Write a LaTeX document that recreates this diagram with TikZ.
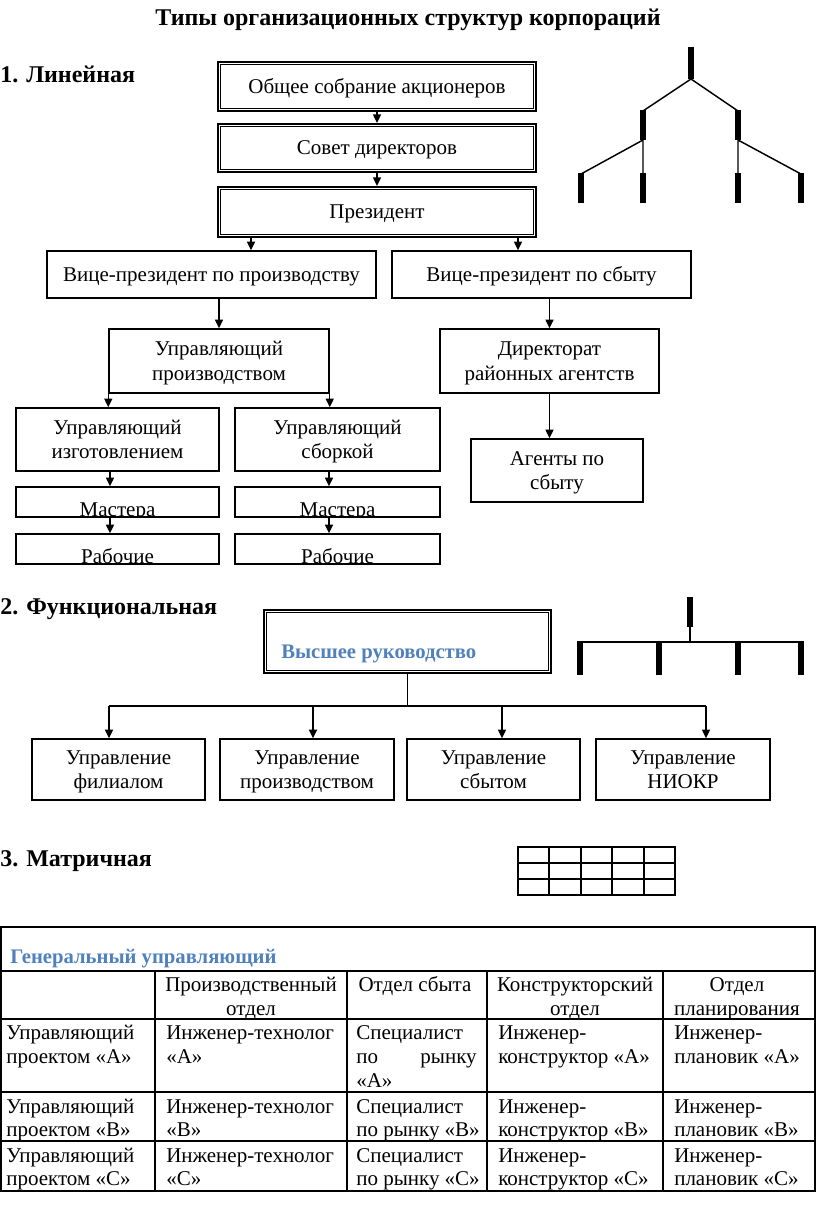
\documentclass[tikz,border=0pt]{standalone}
\usepackage{fontspec}
\setmainfont{Liberation Serif}
\usetikzlibrary{arrows.meta}
\definecolor{hblue}{HTML}{4F81BD}
\newcommand\innerbox[1]{\draw[line width=0.9pt] ([shift={(3.5,3.5)}]#1.north west) rectangle ([shift={(-3.5,-3.5)}]#1.south east);}
\newcommand\topstrut{\rule{0pt}{15.5pt}}
\newcommand\botstrut{\rule[-5.6pt]{0pt}{0pt}}
\begin{document}
\begin{tikzpicture}[x=0.75pt,y=-0.75pt,
  txt/.style={font=\fontsize{15.75}{18.75}\selectfont, inner sep=0pt},
  box/.style={draw, line width=1.1pt, inner sep=0pt, align=center, txt,
    execute at begin node=\topstrut, execute at end node=\botstrut},
  dbox/.style={draw, line width=1.5pt, inner sep=0pt, align=center, txt,
    execute at begin node=\topstrut, execute at end node=\botstrut},
  arr/.style={line width=1pt, -{Triangle[length=6.5pt,width=6pt]}},
  conn/.style={line width=1pt},
  head/.style={font=\fontsize{18}{21}\selectfont\bfseries, inner sep=0pt},
  bluet/.style={font=\fontsize{15.5}{18}\selectfont\bfseries, text=hblue, inner sep=0pt},
  thickbar/.style={line width=3.8pt},
  thinline/.style={line width=1.1pt},
  grid/.style={line width=1.1pt},
  tline/.style={line width=0.8pt},
  cl/.style={txt, anchor=base west},
  cc/.style={txt, anchor=base},
  ce/.style={txt, anchor=base east},
  lineone/.style={cc, yshift=4.1pt},
  linetwo/.style={cc, yshift=-14.6pt}]
\path[use as bounding box, fill=white] (0,0) rectangle (816,1218);

% ---------- title and headings ----------
\node[head, anchor=base] (title) at (408,25) {Типы организационных структур корпораций};
\node[head, anchor=base west] (h1) at (0,82) {1. Линейная};
\node[head, anchor=base west] (h2) at (0,614) {2. Функциональная};
\node[head, anchor=base west] (h3) at (0,866) {3. Матричная};

% ---------- 1. linear ----------
\node[dbox, minimum width=238.5pt, minimum height=36.75pt] (B1) at (377,86.5) {Общее собрание акционеров};
\innerbox{B1}
\node[dbox, minimum width=238.5pt, minimum height=36pt] (B2) at (377,148) {Совет директоров};
\innerbox{B2}
\node[dbox, minimum width=238.5pt, minimum height=37.5pt] (B3) at (377,212) {Президент};
\innerbox{B3}
\draw[arr] (B1.south) -- (B2.north);
\draw[arr] (B2.south) -- (B3.north);

\node[box, minimum width=246.75pt, minimum height=35.25pt] (VP1) at (211.5,274.5) {Вице-президент по производству};
\node[box, minimum width=224.25pt, minimum height=35.25pt] (VP2) at (541.5,274.5) {Вице-президент по сбыту};
\coordinate (pa1) at (251,0);
\coordinate (pa2) at (518,0);
\draw[arr] (pa1 |- B3.south) -- (pa1 |- VP1.north);
\draw[arr] (pa2 |- B3.south) -- (pa2 |- VP2.north);

\node[box, minimum width=165pt, minimum height=48pt] (UP) at (219,361) {};
\node[lineone] (UPa) at (UP) {Управляющий};
\node[linetwo] (UPb) at (UP) {производством};
\node[box, minimum width=164.25pt, minimum height=48pt] (DA) at (549.5,361) {};
\node[lineone] (DAa) at (DA) {Директорат};
\node[linetwo] (DAb) at (DA) {районных агентств};
\draw[arr] (VP1.south -| UP.north) -- (UP.north);
\draw[arr] (VP2.south -| DA.north) -- (DA.north);

\node[box, minimum width=152.25pt, minimum height=47.25pt] (UI) at (117.5,439.5) {};
\node[lineone] (UIa) at (UI) {Управляющий};
\node[linetwo] (UIb) at (UI) {изготовлением};
\node[box, minimum width=153.75pt, minimum height=47.25pt] (US) at (337.5,439.5) {};
\node[lineone] (USa) at (US) {Управляющий};
\node[linetwo] (USb) at (US) {сборкой};
\draw[arr] (UP.south west) -- (UP.south west |- UI.north);
\draw[arr] (UP.south east) -- (UP.south east |- US.north);

\node[box, minimum width=152.25pt, minimum height=22.5pt] (M1) at (117.5,502) {};
\node[box, minimum width=153.75pt, minimum height=22.5pt] (M2) at (337.5,502) {};
\node[box, minimum width=152.25pt, minimum height=22.5pt] (R1) at (117.5,549) {};
\node[box, minimum width=153.75pt, minimum height=22.5pt] (R2) at (337.5,549) {};
\begin{scope}
\clip (M1.north west) rectangle (M1.south east);
\node[cc] (M1t) at (117.5,516) {Мастера};
\end{scope}
\begin{scope}
\clip (M2.north west) rectangle (M2.south east);
\node[cc] (M2t) at (337.5,516) {Мастера};
\end{scope}
\begin{scope}
\clip (R1.north west) rectangle (R1.south east);
\node[cc] (R1t) at (117.5,563) {Рабочие};
\end{scope}
\begin{scope}
\clip (R2.north west) rectangle (R2.south east);
\node[cc] (R2t) at (337.5,563) {Рабочие};
\end{scope}
\coordinate (ma1) at (110,0);
\coordinate (ma2) at (329,0);
\draw[arr] (ma1 |- UI.south) -- (ma1 |- M1.north);
\draw[arr] (ma2 |- US.south) -- (ma2 |- M2.north);
\draw[arr] (ma1 |- M1.south) -- (ma1 |- R1.north);
\draw[arr] (ma2 |- M2.south) -- (ma2 |- R2.north);

\node[box, minimum width=129pt, minimum height=47.25pt] (AG) at (557,470.5) {};
\node[lineone] (AGa) at (AG) {Агенты по};
\node[linetwo] (AGb) at (AG) {сбыту};
\draw[arr] (DA.south) -- (DA.south |- AG.north);

% tree icon
\draw[thickbar] (691,47) -- (691,79);
\draw[thinline] (643,111) -- (691,79) -- (738,111);
\draw[thickbar] (643,110) -- (643,140);
\draw[thickbar] (738,110) -- (738,140);
\draw[thinline] (581,174) -- (643,140) -- (643,174);
\draw[thinline] (738,174) -- (738,140) -- (801,174);
\draw[thickbar] (581,173) -- (581,203);
\draw[thickbar] (643,173) -- (643,203);
\draw[thickbar] (738,173) -- (738,203);
\draw[thickbar] (801,173) -- (801,203);

% ---------- 2. functional ----------
\node[dbox, minimum width=215.25pt, minimum height=47.25pt] (FB) at (407.5,641.5) {};
\innerbox{FB}
\node[bluet, anchor=base west] (FBt) at (281,658) {Высшее руководство};
\coordinate (fj) at (407.5,706);
\coordinate (fa1) at (109,706);
\coordinate (fa2) at (313,706);
\coordinate (fa3) at (502,706);
\coordinate (fa4) at (706,706);
\node[box, minimum width=129.75pt, minimum height=45.75pt] (F1) at (118.5,769.5) {};
\node[lineone] (F1a) at (F1) {Управление};
\node[linetwo] (F1b) at (F1) {филиалом};
\node[box, minimum width=130.5pt, minimum height=45.75pt] (F2) at (307,769.5) {};
\node[lineone] (F2a) at (F2) {Управление};
\node[linetwo] (F2b) at (F2) {производством};
\node[box, minimum width=129.75pt, minimum height=45.75pt] (F3) at (493.5,769.5) {};
\node[lineone] (F3a) at (F3) {Управление};
\node[linetwo] (F3b) at (F3) {сбытом};
\node[box, minimum width=130.5pt, minimum height=45.75pt] (F4) at (683,769.5) {};
\node[lineone] (F4a) at (F4) {Управление};
\node[linetwo] (F4b) at (F4) {НИОКР};
\draw[conn] (FB.south) -- (fj);
\draw[conn] (fa1) -- (fa4);
\draw[arr] (fa1) -- (fa1 |- F1.north);
\draw[arr] (fa2) -- (fa2 |- F2.north);
\draw[arr] (fa3) -- (fa3 |- F3.north);
\draw[arr] (fa4) -- (fa4 |- F4.north);

% functional icon
\draw[thickbar] (690,597) -- (690,627);
\draw[thinline] (690,627) -- (690,642);
\draw[thinline] (580,642) -- (801,642);
\draw[thickbar] (580,641) -- (580,675);
\draw[thickbar] (659,641) -- (659,675);
\draw[thickbar] (738,641) -- (738,675);
\draw[thickbar] (801,641) -- (801,675);

% ---------- 3. matrix ----------
\draw[grid] (518,847) rectangle (675,895);
\foreach \gx in {549,581,612,644} \draw[grid] (\gx,847) -- (\gx,895);
\foreach \gy in {863,879} \draw[grid] (518,\gy) -- (675,\gy);

% table
\draw[tline] (1,927) rectangle (815,1191);
\foreach \ty in {971,1019,1092,1141} \draw[tline] (1,\ty) -- (815,\ty);
\foreach \tx in {155,347,487,663} \draw[tline] (\tx,971) -- (\tx,1191);
\node[bluet, anchor=base west] (gen) at (10,963) {Генеральный управляющий};

\node[cc] (h1a) at (251,991) {Производственный};
\node[cc] (h1b) at (251,1015) {отдел};
\node[cc] (h2a) at (415,991) {Отдел сбыта};
\node[cc] (h3a) at (575,991) {Конструкторский};
\node[cc] (h3b) at (575,1015) {отдел};
\node[cc] (h4a) at (737,991) {Отдел};
\node[cc] (h4b) at (737,1015) {планирования};

\node[cl] (a0a) at (6,1039) {Управляющий};
\node[cl] (a0b) at (6,1063) {проектом «А»};
\node[cl] (a1a) at (166,1039) {Инженер-технолог};
\node[cl] (a1b) at (166,1063) {«А»};
\node[cl] (a2a) at (356,1039) {Специалист};
\node[cl] (a2b) at (356,1063) {по};
\node[ce] (a2c) at (477,1063) {рынку};
\node[cl] (a2d) at (356,1087) {«А»};
\node[cl] (a3a) at (498,1039) {Инженер-};
\node[cl] (a3b) at (498,1063) {конструктор «А»};
\node[cl] (a4a) at (674,1039) {Инженер-};
\node[cl] (a4b) at (674,1063) {плановик «А»};

\node[cl] (b0a) at (6,1113) {Управляющий};
\node[cl] (b0b) at (6,1136) {проектом «В»};
\node[cl] (b1a) at (166,1113) {Инженер-технолог};
\node[cl] (b1b) at (166,1136) {«В»};
\node[cl] (b2a) at (356,1113) {Специалист};
\node[cl] (b2b) at (356,1136) {по рынку «В»};
\node[cl] (b3a) at (498,1113) {Инженер-};
\node[cl] (b3b) at (498,1136) {конструктор «В»};
\node[cl] (b4a) at (674,1113) {Инженер-};
\node[cl] (b4b) at (674,1136) {плановик «В»};

\node[cl] (c0a) at (6,1162) {Управляющий};
\node[cl] (c0b) at (6,1185) {проектом «С»};
\node[cl] (c1a) at (166,1162) {Инженер-технолог};
\node[cl] (c1b) at (166,1185) {«С»};
\node[cl] (c2a) at (356,1162) {Специалист};
\node[cl] (c2b) at (356,1185) {по рынку «С»};
\node[cl] (c3a) at (498,1162) {Инженер-};
\node[cl] (c3b) at (498,1185) {конструктор «С»};
\node[cl] (c4a) at (674,1162) {Инженер-};
\node[cl] (c4b) at (674,1185) {плановик «С»};
\end{tikzpicture}
\end{document}
